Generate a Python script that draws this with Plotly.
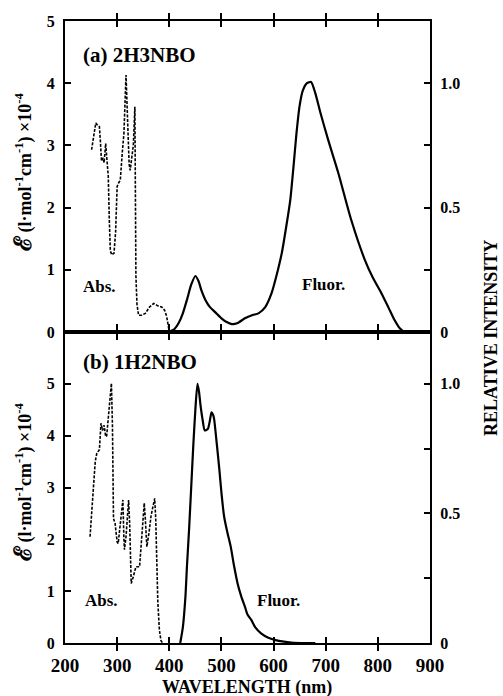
import plotly.graph_objects as go

# ---------------- data ----------------
# (a) 2H3NBO absorption (epsilon x 1e-4) and fluorescence (relative)
abs_a_wl = [251, 255, 259, 263, 266, 268, 270, 273, 275, 278, 280, 283, 285, 287, 290, 294, 297, 300,
            303, 306, 310, 313, 317, 320, 323, 325, 328, 331, 334, 336, 338, 341, 347, 354, 362, 370,
            378, 386, 391, 395, 398, 400]
abs_a_eps = [2.93, 3.15, 3.36, 3.32, 3.30, 3.05, 2.75, 2.80, 2.72, 3.03, 2.75, 2.50, 1.80, 1.30, 1.24, 1.27,
             1.60, 2.34, 2.40, 2.44, 2.90, 3.19, 4.13, 3.40, 2.70, 2.60, 2.77, 3.00, 3.62, 0.90, 0.45, 0.27,
             0.27, 0.30, 0.40, 0.46, 0.42, 0.40, 0.35, 0.25, 0.10, 0.0]
flu_a_wl = [399, 410, 418, 426, 434, 442, 450, 456, 462, 469, 478, 488, 500, 510, 520, 530, 545, 560, 571,
            584, 596, 606, 616, 624, 632, 638, 644, 650, 656, 664, 672, 680, 690, 705, 724, 749, 775, 790,
            807, 820, 832, 842, 851, 877]
flu_a_int = [0.0, 0.012, 0.036, 0.075, 0.13, 0.19, 0.225, 0.205, 0.165, 0.13, 0.10, 0.08, 0.055, 0.04,
             0.032, 0.035, 0.055, 0.068, 0.075, 0.10, 0.155, 0.23, 0.32, 0.42, 0.53, 0.66, 0.80, 0.91,
             0.97, 1.0, 1.005, 0.96, 0.88, 0.77, 0.64, 0.45, 0.29, 0.22, 0.155, 0.10, 0.048, 0.015, 0.001, 0.0]

# (b) 1H2NBO
abs_b_wl = [248, 254, 258, 261, 266, 269, 272, 275, 278, 280, 283, 286, 289, 291, 293, 296, 300, 302,
            306, 309, 311, 313, 314, 317, 320, 322, 324, 327, 331, 336, 343, 348, 352, 354, 357, 361,
            365, 369, 372, 374, 376, 378, 381, 384, 387]
abs_b_eps = [2.05, 2.90, 3.50, 3.66, 3.73, 4.24, 4.10, 4.20, 3.98, 4.00, 4.30, 4.70, 5.01, 4.20, 2.40,
             2.31, 1.95, 1.92, 2.31, 2.70, 2.76, 2.00, 1.80, 2.05, 2.40, 2.76, 2.30, 1.15, 1.28, 1.47,
             1.47, 2.10, 2.70, 2.40, 1.86, 2.12, 2.45, 2.65, 2.79, 2.40, 1.60, 0.80, 0.25, 0.05, 0.0]
flu_b_wl = [421, 426, 431, 434, 438, 442, 446, 450, 454, 457, 460, 464, 468, 474, 478, 481, 484, 486,
            491, 496, 500, 505, 511, 518, 524, 531, 538, 545, 550, 557, 565, 576, 590, 602, 620, 634,
            660, 680]
flu_b_int = [0.0, 0.06, 0.18, 0.30, 0.44, 0.60, 0.76, 0.90, 1.0, 0.97, 0.916, 0.86, 0.82, 0.826, 0.86,
             0.89, 0.88, 0.864, 0.77, 0.67, 0.58, 0.49, 0.43, 0.37, 0.30, 0.23, 0.18, 0.14, 0.11, 0.09,
             0.06, 0.037, 0.02, 0.012, 0.005, 0.002, 0.0, 0.0]

x_ticks = [200, 300, 400, 500, 600, 700, 800, 900]
left_ticks_a = [0, 1, 2, 3, 4, 5]
left_ticks_b = [0, 1, 2, 3, 4, 5]
right_ticks = [0, 0.5, 1.0]
right_labels = ["0", "0.5", "1.0"]
right_minor = [0.25, 0.75]

# ---------------- figure ----------------
FONT = "Liberation Serif, Times New Roman, serif"
W, H = 503, 696
ML, MT = 65, 21
PW, PH = 365, 622
MR = W - ML - PW
MB = H - MT - PH


def px(x):
    return (x - ML) / PW


def py(y):
    return (H - MB - y) / PH


fig = go.Figure()
dot = "3px,1.5px"
fig.add_trace(go.Scatter(x=abs_a_wl, y=abs_a_eps, mode="lines", xaxis="x", yaxis="y",
                         line=dict(color="black", width=1.6, dash=dot), showlegend=False))
fig.add_trace(go.Scatter(x=flu_a_wl, y=flu_a_int, mode="lines", xaxis="x", yaxis="y3",
                         line=dict(color="black", width=2.2, shape="spline", smoothing=0.6), showlegend=False))
fig.add_trace(go.Scatter(x=abs_b_wl, y=abs_b_eps, mode="lines", xaxis="x2", yaxis="y2",
                         line=dict(color="black", width=1.6, dash=dot), showlegend=False))
fig.add_trace(go.Scatter(x=flu_b_wl, y=flu_b_int, mode="lines", xaxis="x2", yaxis="y4",
                         line=dict(color="black", width=2.2, shape="spline", smoothing=0.6), showlegend=False))

axis_common = dict(showline=True, linecolor="black", linewidth=2, ticks="inside", ticklen=6,
                   tickwidth=1.5, tickcolor="black", showgrid=False, zeroline=False)
minor_right = dict(tickmode="array", tickvals=right_minor, ticks="inside", ticklen=6, tickwidth=1.5,
                   tickcolor="black", showgrid=False)

fig.update_layout(
    width=W, height=H,
    margin=dict(l=ML, r=MR, t=MT, b=MB, pad=0),
    paper_bgcolor="white", plot_bgcolor="white",
    font=dict(family=FONT, color="black", size=16, weight="bold"),
    xaxis=dict(axis_common, domain=[0, 1], range=[200, 900], tickvals=x_ticks, showticklabels=False,
               mirror="allticks", anchor="y"),
    yaxis=dict(axis_common, domain=[0.5, 1], range=[0, 5], tickvals=left_ticks_a, anchor="x",
               tickfont=dict(size=16), ticklabelstandoff=5),
    yaxis3=dict(axis_common, overlaying="y", side="right", range=[0, 1.25], tickvals=right_ticks,
                ticktext=right_labels, minor=minor_right, anchor="x", tickfont=dict(size=16),
                ticklabelstandoff=5),
    xaxis2=dict(axis_common, domain=[0, 1], range=[200, 900], tickvals=x_ticks, mirror="allticks",
                anchor="y2", tickfont=dict(size=19), ticklabelstandoff=4),
    yaxis2=dict(axis_common, domain=[0, 0.5], range=[0, 6], tickvals=left_ticks_b, anchor="x2",
                tickfont=dict(size=16), ticklabelstandoff=5),
    yaxis4=dict(axis_common, overlaying="y2", side="right", range=[0, 1.2], tickvals=right_ticks,
                ticktext=right_labels, minor=minor_right, anchor="x2", tickfont=dict(size=16),
                ticklabelstandoff=5),
)

ann = []


def add_text(text, x, y, size, xanchor="left", angle=0):
    ann.append(dict(text=text, x=px(x), y=py(y), xref="paper", yref="paper", showarrow=False,
                    xanchor=xanchor, yanchor="middle", textangle=angle,
                    font=dict(family=FONT, size=size, color="black", weight="bold")))


add_text("(a) 2H3NBO", 81, 55, 21)
add_text("Abs.", 81, 286, 17)
add_text("Fluor.", 300, 284, 17)
add_text("(b) 1H2NBO", 81, 362, 21)
add_text("Abs.", 83, 600, 17)
add_text("Fluor.", 255, 600, 17)
ytitle = ("<span style='font-size:24px'>ℰ</span> (l·mol<sup>-1</sup>cm<sup>-1</sup>) "
          "×10<sup>-4</sup>")
add_text(ytitle, 23, 172, 18, xanchor="center", angle=-90)
add_text(ytitle, 23, 482, 18, xanchor="center", angle=-90)
add_text("RELATIVE INTENSITY", 491, 338, 18, xanchor="center", angle=-90)
add_text("WAVELENGTH (nm)", 247, 687, 18, xanchor="center")
fig.update_layout(annotations=ann)

fig.write_html("out.html", config={"displayModeBar": False},
               post_script="document.body.style.margin='0';document.body.style.overflow='hidden';")
